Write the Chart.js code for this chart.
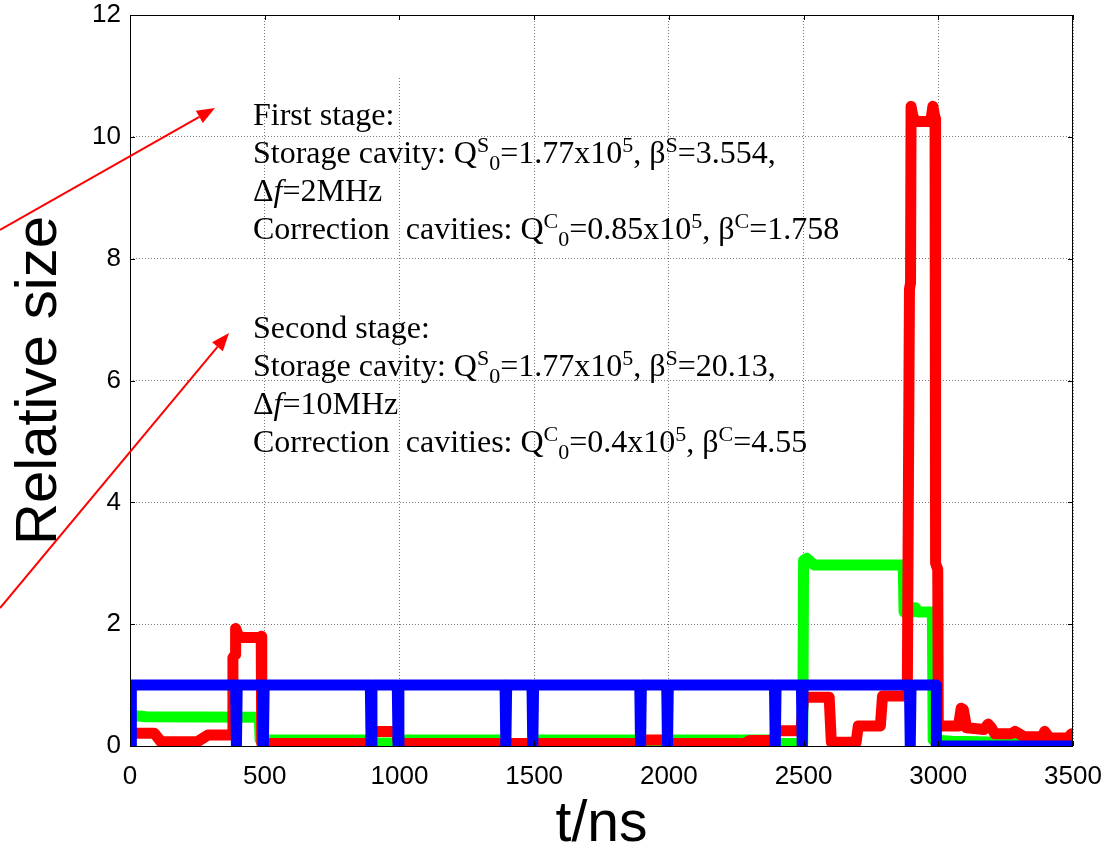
<!DOCTYPE html>
<html>
<head>
<meta charset="utf-8">
<script src="https://cdn.jsdelivr.net/npm/chart.js@4.4.1/dist/chart.umd.min.js"></script>
<style>
  html, body { margin: 0; padding: 0; background: #fff; }
</style>
</head>
<body>
<canvas id="chart" width="1120" height="847"></canvas>
<script>
// tick values
const xTicks = [0, 500, 1000, 1500, 2000, 2500, 3000, 3500];
const yTicks = [0, 2, 4, 6, 8, 10, 12];

// blue trace: level 1 with short drops to 0
const blueT = [5, 5, 392, 395, 398, 492, 495, 498, 892, 895, 898, 992, 995, 998,
  1392, 1395, 1398, 1492, 1495, 1498, 1892, 1895, 1898, 1992, 1995, 1998,
  2392, 2395, 2398, 2492, 2495, 2498, 2893, 2896, 2899, 2993, 2993, 3500];
const blueY = [0, 1, 1, 0, 1, 1, 0, 1, 1, 0, 1, 1, 0, 1,
  1, 0, 1, 1, 0, 1, 1, 0, 1, 1, 0, 1,
  1, 0, 1, 1, 0, 1, 1, 0, 1, 1, 0, 0];

// red trace
const redT = [5, 90, 115, 250, 290, 380, 382, 390, 392, 405,
  478, 487, 489, 890, 898, 990, 996, 1890, 1898, 1990,
  1996, 2280, 2300, 2390, 2398, 2490, 2500, 2595, 2603, 2695,
  2703, 2785, 2793, 2885, 2893, 2897, 2899, 2905, 2915, 2972,
  2980, 2988, 2990, 2998, 3000, 3004, 3075, 3085, 3093, 3105,
  3170, 3185, 3197, 3210, 3270, 3285, 3300, 3320, 3385, 3395,
  3408, 3420, 3480, 3495, 3500];
const redY = [0.21, 0.21, 0.07, 0.07, 0.18, 0.18, 1.45, 1.5, 1.93, 1.78,
  1.78, 1.8, 0.04, 0.04, 0.24, 0.24, 0.04, 0.04, 0.1, 0.1,
  0.04, 0.04, 0.09, 0.09, 0.25, 0.25, 0.8, 0.8, 0.06, 0.06,
  0.33, 0.33, 0.82, 0.82, 7.5, 7.6, 10.5, 10.35, 10.25, 10.25,
  10.5, 10.3, 3.0, 2.9, 0.35, 0.33, 0.33, 0.62, 0.6, 0.3,
  0.27, 0.36, 0.3, 0.2, 0.2, 0.24, 0.2, 0.15, 0.15, 0.24,
  0.16, 0.13, 0.13, 0.2, 0.17];

// green trace
const greenT = [8, 60, 480, 483, 890, 898, 990, 998, 1390, 1398,
  1490, 1498, 1890, 1898, 1990, 1998, 2390, 2398, 2497, 2500,
  2512, 2540, 2870, 2873, 2905, 2915, 2925, 2978, 2981, 3050, 3500];
const greenY = [0.5, 0.48, 0.47, 0.1, 0.1, 0.05, 0.05, 0.1, 0.1, 0.02,
  0.02, 0.1, 0.1, 0.02, 0.02, 0.1, 0.1, 0.04, 0.04, 3.05,
  3.08, 2.97, 2.97, 2.2, 2.2, 2.27, 2.2, 2.2, 0.1, 0.08, 0.04];

// annotation text: [text, kind] pieces per line
const stage1 = [
  [['First stage:', '']],
  [['Storage cavity: Q', ''], ['S', 'sup'], ['0', 'sub'], ['=1.77x10', ''], ['5', 'sup'], [', β', ''], ['S', 'sup'], ['=3.554,', '']],
  [['Δ', ''], ['f', 'it'], ['=2MHz', '']],
  [['Correction  cavities: Q', ''], ['C', 'sup'], ['0', 'sub'], ['=0.85x10', ''], ['5', 'sup'], [', β', ''], ['C', 'sup'], ['=1.758', '']]
];
const stage2 = [
  [['Second stage:', '']],
  [['Storage cavity: Q', ''], ['S', 'sup'], ['0', 'sub'], ['=1.77x10', ''], ['5', 'sup'], [', β', ''], ['S', 'sup'], ['=20.13,', '']],
  [['Δ', ''], ['f', 'it'], ['=10MHz', '']],
  [['Correction  cavities: Q', ''], ['C', 'sup'], ['0', 'sub'], ['=0.4x10', ''], ['5', 'sup'], [', β', ''], ['C', 'sup'], ['=4.55', '']]
];

const toPoints = (ts, ys) => ts.map((t, i) => ({ x: t, y: ys[i] }));

const drawRich = (ctx, x, y, parts) => {
  parts.forEach(([txt, kind]) => {
    let size = 32, dy = 0, style = '';
    if (kind === 'sup') { size = 22; dy = -11; }
    if (kind === 'sub') { size = 22; dy = 7; }
    if (kind === 'it') style = 'italic ';
    ctx.font = `${style}${size}px "Liberation Serif"`;
    ctx.fillText(txt, x, y + dy);
    x += ctx.measureText(txt).width;
  });
};

const drawArrow = (ctx, x0, y0, x1, y1) => {
  const a = Math.atan2(y1 - y0, x1 - x0);
  const len = 18, half = 7;
  ctx.strokeStyle = '#ff0000';
  ctx.fillStyle = '#ff0000';
  ctx.lineWidth = 2;
  ctx.beginPath();
  ctx.moveTo(x0, y0);
  ctx.lineTo(x1 - len * Math.cos(a), y1 - len * Math.sin(a));
  ctx.stroke();
  ctx.beginPath();
  ctx.moveTo(x1, y1);
  ctx.lineTo(x1 - len * Math.cos(a) + half * Math.sin(a), y1 - len * Math.sin(a) - half * Math.cos(a));
  ctx.lineTo(x1 - len * Math.cos(a) - half * Math.sin(a), y1 - len * Math.sin(a) + half * Math.cos(a));
  ctx.closePath();
  ctx.fill();
};

const frame = {
  id: 'frame',
  beforeDatasetsDraw(chart) {
    // white edge of the text box hides part of a grid line
    const ctx = chart.ctx;
    ctx.save();
    ctx.fillStyle = '#fff';
    ctx.fillRect(397, 17, 6, 61);
    ctx.restore();
  },
  afterDraw(chart) {
    const { ctx, chartArea: a, scales } = chart;
    ctx.save();
    ctx.setLineDash([]);
    ctx.strokeStyle = '#000';
    ctx.lineWidth = 1;
    ctx.strokeRect(a.left + 0.5, a.top + 0.5, a.right - a.left - 1, a.bottom - a.top);
    ctx.beginPath();
    xTicks.forEach(v => {
      const px = Math.round(scales.x.getPixelForValue(v)) + 0.5;
      ctx.moveTo(px, a.bottom); ctx.lineTo(px, a.bottom - 5);
      ctx.moveTo(px, a.top); ctx.lineTo(px, a.top + 5);
    });
    yTicks.forEach(v => {
      const py = Math.round(scales.y.getPixelForValue(v)) + 0.5;
      ctx.moveTo(a.left, py); ctx.lineTo(a.left + 5, py);
      ctx.moveTo(a.right, py); ctx.lineTo(a.right - 5, py);
    });
    ctx.stroke();

    ctx.fillStyle = '#000';
    ctx.textBaseline = 'alphabetic';
    ctx.textAlign = 'left';
    const base1 = [125, 163, 201, 239];
    const base2 = [338, 376, 414, 452];
    stage1.forEach((line, i) => drawRich(ctx, 253, base1[i], line));
    stage2.forEach((line, i) => drawRich(ctx, 253, base2[i], line));

    drawArrow(ctx, 0, 230, 215, 108);
    drawArrow(ctx, 0, 608, 229, 333);
    ctx.restore();
  }
};

const lineStyle = {
  borderWidth: 11,
  pointRadius: 0,
  tension: 0,
  borderJoinStyle: 'round',
  borderCapStyle: 'round',
  clip: 0,
  fill: false
};

Chart.defaults.color = '#000';
Chart.defaults.font.family = '"Liberation Sans", Arial, sans-serif';

new Chart(document.getElementById('chart'), {
  type: 'line',
  data: {
    datasets: [
      { ...lineStyle, label: 'blue', data: toPoints(blueT, blueY), borderColor: '#0000ff', order: 0 },
      { ...lineStyle, label: 'red', data: toPoints(redT, redY), borderColor: '#ff0000', order: 1 },
      { ...lineStyle, label: 'green', data: toPoints(greenT, greenY), borderColor: '#00ff00', order: 2 }
    ]
  },
  options: {
    responsive: false,
    animation: false,
    events: [],
    layout: { padding: { left: 0, right: 47, top: 0, bottom: 0 } },
    plugins: { legend: { display: false }, tooltip: { enabled: false } },
    scales: {
      x: {
        type: 'linear',
        min: 0,
        max: 3500,
        afterBuildTicks: s => { s.ticks = xTicks.map(v => ({ value: v })); },
        afterFit: s => { s.height = 101; },
        ticks: { font: { size: 26 }, padding: 15, maxRotation: 0, callback: v => String(v) },
        grid: { color: '#7a7a7a', lineWidth: 1, drawTicks: false },
        border: { display: false, dash: [1, 2] },
        title: { display: true, text: 't/ns', font: { size: 57, lineHeight: 0.75 }, padding: { top: 0, bottom: 0 } }
      },
      y: {
        min: 0,
        max: 12,
        afterBuildTicks: s => { s.ticks = yTicks.map(v => ({ value: v })); },
        afterFit: s => { s.width = 130; s.paddingTop = 15; s.paddingBottom = 0; },
        ticks: { font: { size: 26, lineHeight: 1.15 }, padding: 9, callback: v => String(v) },
        grid: { color: '#7a7a7a', lineWidth: 1, drawTicks: false },
        border: { display: false, dash: [1, 2] },
        title: { display: true, text: 'Relative size', font: { size: 58, lineHeight: 1 }, padding: { top: 11, bottom: 0 } }
      }
    }
  },
  plugins: [frame]
});
</script>
</body>
</html>
